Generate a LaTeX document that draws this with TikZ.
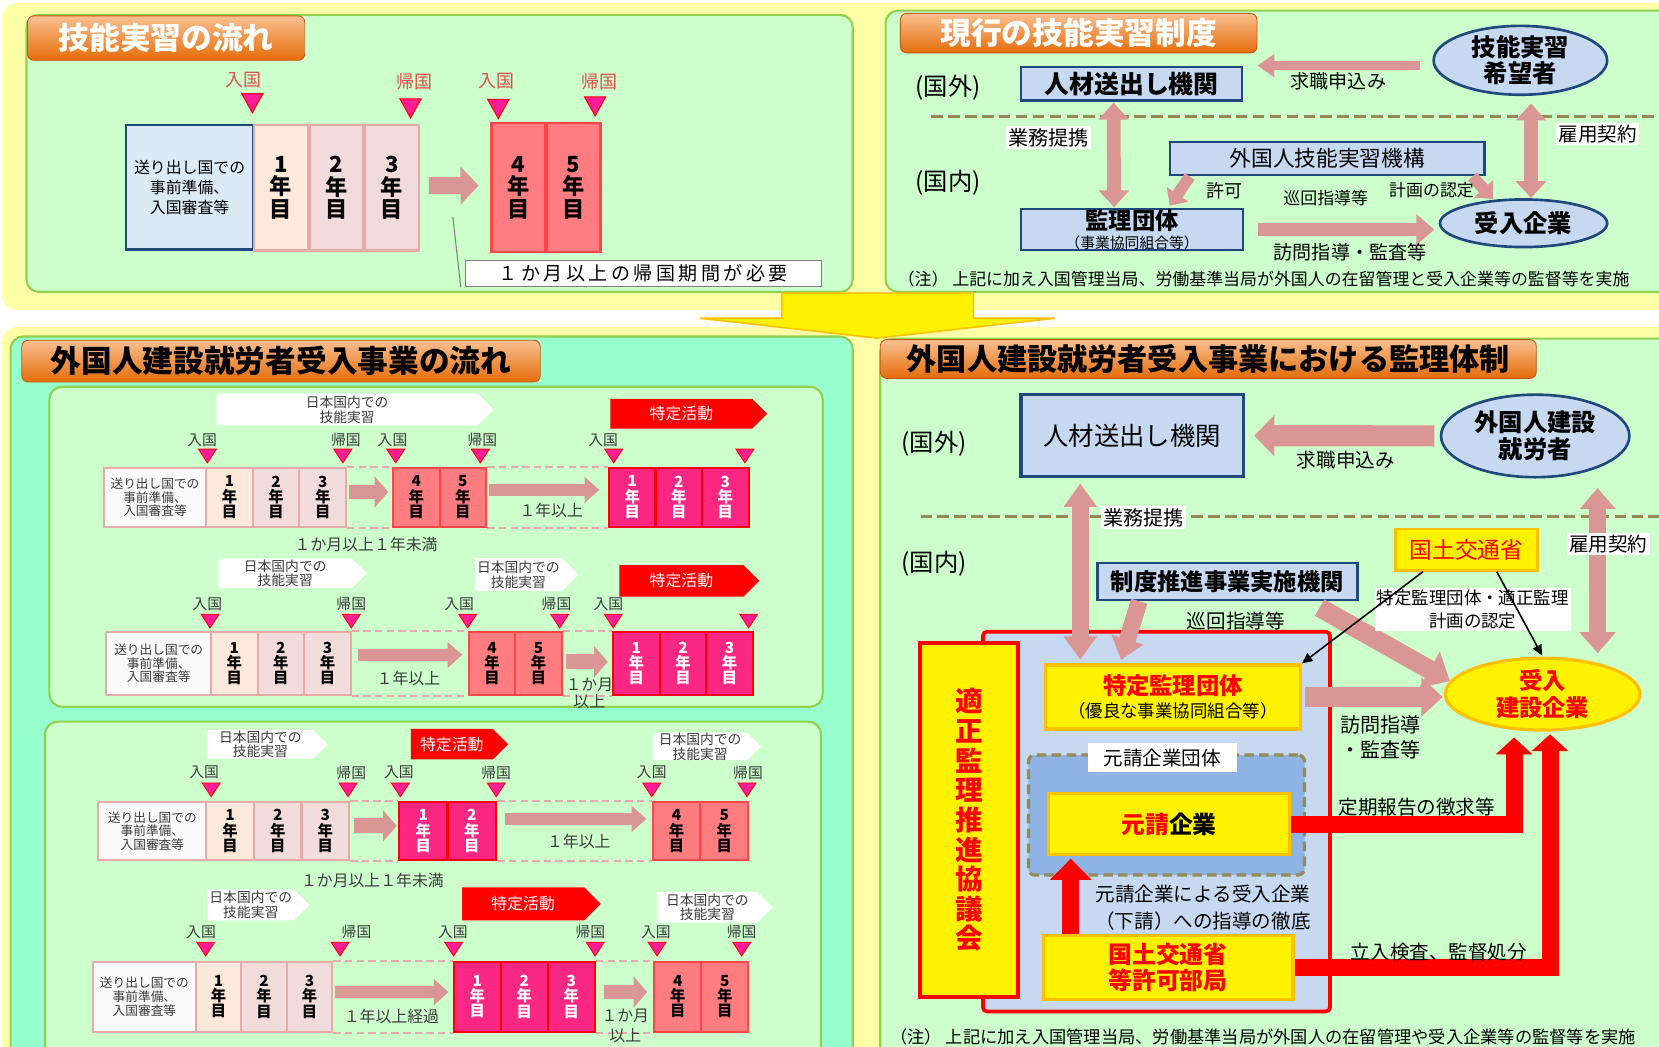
\documentclass[tikz,border=0pt]{standalone}
\usepackage{fontspec}
\setmainfont{Noto Sans CJK JP}
\usetikzlibrary{arrows.meta, shapes.geometric, shapes.symbols, positioning, calc}
\definecolor{BackYellow}{RGB}{255,255,168}
\definecolor{PanelGreen}{RGB}{204,255,204}
\definecolor{PanelMint}{RGB}{150,255,205}
\definecolor{EdgeGreen}{RGB}{146,208,80}
\definecolor{TabTop}{RGB}{250,192,144}
\definecolor{TabBottom}{RGB}{228,108,10}
\definecolor{TabEdge}{RGB}{190,90,20}
\definecolor{PrepBlue}{RGB}{220,234,246}
\definecolor{NavyEdge}{RGB}{31,73,125}
\definecolor{BoxBlue}{RGB}{198,217,241}
\definecolor{YearPeach}{RGB}{253,233,217}
\definecolor{YearRose}{RGB}{242,220,219}
\definecolor{YearEdge}{RGB}{230,170,168}
\definecolor{YearSalmon}{RGB}{255,124,128}
\definecolor{SalmonEdge}{RGB}{255,70,70}
\definecolor{YearMagenta}{RGB}{250,40,130}
\definecolor{MarkPink}{RGB}{255,30,150}
\definecolor{ArrowPink}{RGB}{217,150,148}
\definecolor{DashOlive}{RGB}{148,138,84}
\definecolor{GroupBlue}{RGB}{141,180,226}
\definecolor{EdgeOrange}{RGB}{255,192,0}
\definecolor{LabelRed}{RGB}{224,80,77}
\definecolor{TextGray}{RGB}{60,60,60}
\newcommand{\fsz}[2]{\fontsize{#1}{#2}\selectfont}

\begin{document}
\begin{tikzpicture}[x=1pt, y=-1pt,
	panel/.style={draw=EdgeGreen, line width=2pt, fill=PanelGreen, rounded corners=12pt},
	tab/.style={draw=TabEdge, line width=0.8pt, top color=TabTop, bottom color=TabBottom,
		rounded corners=6pt, inner sep=0pt, font=\fsz{29}{29}\bfseries},
	prep/.style={draw=NavyEdge, line width=2.5pt, fill=PrepBlue, inner sep=0pt, align=center,
		font=\fsz{15}{19}},
	prepS/.style={draw=YearEdge, line width=2pt, fill=white!96!gray, inner sep=0pt, align=center,
		font=\fsz{12}{13}, text=TextGray},
	yr/.style={draw=YearEdge, line width=2pt, inner sep=0pt, align=center, font=\fsz{14.5}{14.5}\bfseries},
	yrC/.style={yr, draw=SalmonEdge, fill=YearSalmon},
	yrD/.style={yr, draw=red, fill=YearMagenta, text=white},
	chevw/.style={signal, signal to=east, fill=white, inner sep=0pt, align=center,
		font=\fsz{13}{14}, text=TextGray},
	chevr/.style={signal, signal to=east, fill=red, inner sep=0pt, font=\fsz{15}{15}, text=white},
	tag/.style={font=\fsz{14}{14}, text=TextGray},
	tagred/.style={font=\fsz{17}{17}, text=LabelRed},
	note/.style={font=\fsz{15}{15}, text=TextGray, align=center},
	bluebox/.style={draw=NavyEdge, line width=2pt, fill=BoxBlue, inner sep=0pt, align=center},
	blueoval/.style={ellipse, draw=NavyEdge, line width=2.5pt, fill=BoxBlue, inner sep=0pt, align=center},
	yelbox/.style={draw=EdgeOrange, line width=3pt, fill=yellow, text=red, inner sep=0pt, align=center},
	yeloval/.style={ellipse, draw=EdgeOrange, line width=3pt, fill=yellow, text=red, inner sep=0pt, align=center},
	whitelbl/.style={fill=white, inner sep=2pt},
	sepdash/.style={draw=DashOlive, line width=3pt, dash pattern=on 11pt off 5pt},
	gapdash/.style={draw=YearEdge, line width=2pt, dash pattern=on 7pt off 4pt},
	fat/.style n args={3}{draw=ArrowPink, line width=#1, -{Triangle[length=#2, width=#3]}},
	fatboth/.style n args={3}{draw=ArrowPink, line width=#1,
		{Triangle[length=#2, width=#3]}-{Triangle[length=#2, width=#3]}},
	redarrow/.style n args={3}{draw=red, line width=#1, -{Triangle[length=#2, width=#3]}},
	flowS/.style={fat={14pt}{13pt}{29pt}},
	flowL/.style={fat={12pt}{14pt}{24pt}},
	pointer/.style={draw=black, line width=1.5pt, -{Triangle[length=10pt, width=9pt]}},
	bigmark/.pic={\filldraw[draw=red, fill=MarkPink, line width=1pt] (-10,-9) -- (10,-9) -- (0,9) -- cycle;},
	smallmark/.pic={\filldraw[draw=red, fill=MarkPink, line width=0.8pt] (-8.5,-6.5) -- (8.5,-6.5) -- (0,6.5) -- cycle;}]
\useasboundingbox (0,0) rectangle (1568,989);
% backgrounds
\fill[white] (0,0) rectangle (1568,989);
\fill[BackYellow, rounded corners=14pt] (2,3) rectangle (1590,293);
\fill[BackYellow, rounded corners=14pt] (2,309) rectangle (1590,1010);
\draw[panel] (25,14) rectangle (806,276);
\draw[panel] (837,10) rectangle (1590,276);
\draw[panel, fill=PanelMint] (10,318) rectangle (806,1010);
\draw[panel] (46.7,365.5) rectangle (777.6,668);
\draw[panel] (42.5,682) rectangle (776,1010);
\draw[panel] (832,320) rectangle (1590,1010);
% big arrow between the halves
\filldraw[fill=yellow, draw=EdgeOrange, line width=1.5pt] (739,277) -- (920,277) -- (920,300.8)
	-- (997,300.8) -- (828.6,319.5) -- (661.6,300.8) -- (739,300.8) -- cycle;

% flow of training (top left)
\node[tab, text=white, minimum width=262pt, minimum height=42pt] (tltab) at (157,36) {技能実習の流れ};
\node[prep, minimum width=120.5pt, minimum height=118pt] (tlprep) at (179.25,177) {送り出し国での\\事前準備、\\入国審査等};
\foreach \i/\x/\c in {1/265.5/YearPeach,2/318/YearRose,3/370.5/YearRose}
	\node[yr, fill=\c, font=\fsz{21}{21.5}\bfseries, line width=2.5pt, minimum width=51pt, minimum height=119pt] (tly\i) at (\x,177.5) {\i\\年\\目};
\foreach \i/\x in {4/490,5/542}
	\node[yrC, font=\fsz{21}{21.5}\bfseries, line width=2.5pt, minimum width=51pt, minimum height=122pt] (tly\i) at (\x,177.3) {\i\\年\\目};
\foreach \x/\y in {238.5/97.5,388/102.5,471/103,562.5/100.5}
	\pic at (\x,\y) {bigmark};
\node[tagred] (tlin1) at (230,76) {入国};
\node[tagred] (tlout1) at (392,77) {帰国};
\node[tagred] (tlin2) at (469,77) {入国};
\node[tagred] (tlout2) at (566.5,77) {帰国};
\draw[fat={16pt}{17pt}{35pt}, shorten <=8pt, shorten >=11pt] ([yshift=2pt]tly3.east) -- ([yshift=2pt]tly4.west);
\coordinate (tlgap) at (428,205);
\node[draw=gray, line width=1pt, fill=white, minimum width=336pt, minimum height=25pt, inner sep=0pt,
	font=\fsz{18}{18}\addfontfeature{LetterSpace=18}] (tlnote) at (608,258.5) {１か月以上の帰国期間が必要};
\draw[gray, line width=1pt] (tlgap) -- ([xshift=-4pt]tlnote.south west);

% current system (top right)
\node[tab, text=white, minimum width=337pt, minimum height=37.4pt] (trtab) at (1019.5,31.3) {現行の技能実習制度};
\node[font=\fsz{23}{23}] (trout) at (896,82.5) {(国外)};
\node[font=\fsz{23}{23}] (trin) at (896,173) {(国内)};
\draw[sepdash] (880,110) -- (1568,110);
\node[bluebox, minimum width=209pt, minimum height=32pt, font=\fsz{23.5}{23.5}\bfseries] (trsend) at (1069.5,79) {人材送出し機関};
\node[blueoval, minimum width=164pt, minimum height=63pt, font=\fsz{23}{24}\bfseries] (trhope) at (1437,57) {技能実習\\希望者};
\node[bluebox, minimum width=297pt, minimum height=30.5pt, font=\fsz{20.5}{20.5}] (trotit) at (1254.5,149.75) {外国人技能実習機構};
\node[bluebox, minimum width=210pt, minimum height=38pt, font=\fsz{14}{18}] (trsup) at (1070,217) {{\fsz{22}{18}\bfseries 監理団体}\\（事業協同組合等）};
\node[blueoval, minimum width=158pt, minimum height=45pt, font=\fsz{23}{23}\bfseries] (trfirm) at (1440,211) {受入企業};
\coordinate (trapp) at ([yshift=-5pt]trhope.west);
\draw[fat={9pt}{16pt}{21pt}, shorten <=12pt, shorten >=13.5pt] (trapp) -- (trapp -| trsend.east);
\node[font=\fsz{18}{18}] (trapplbl) at (1265,77) {求職申込み};
\draw[fatboth={13pt}{16pt}{28pt}, shorten <=1pt, shorten >=1pt] ([xshift=-17pt]trsend.south) -- ([xshift=-17pt]trsup.north);
\node[whitelbl, font=\fsz{19}{19}] (trtie) at (991,130) {業務提携};
\draw[fatboth={13pt}{16pt}{28pt}, shorten <=7pt] ([xshift=10pt]trhope.south) -- ([xshift=7pt]trfirm.north);
\node[whitelbl, font=\fsz{18.5}{18.5}] (trhire) at (1510,126.5) {雇用契約};
\draw[fat={11pt}{13pt}{24pt}, shorten <=1pt, shorten >=3pt] ([xshift=20pt]trotit.south west) -- ([xshift=140pt]trsup.north west);
\draw[fat={11pt}{13pt}{24pt}, shorten <=1pt, shorten >=1pt] ([xshift=-13pt]trotit.south east) -- (trfirm.142);
\draw[fat={13pt}{17pt}{28pt}, shorten <=13pt, shorten >=4pt] (trsup.east) -- (trsup.east -| trfirm.west);
\node[font=\fsz{17}{17}] (trperm) at (1157,180) {許可};
\node[font=\fsz{16}{16}] (trtour) at (1253,187.5) {巡回指導等};
\node[font=\fsz{16}{16}] (trplan) at (1353,180) {計画の認定};
\node[font=\fsz{18}{18}] (trvisit) at (1276,238) {訪問指導・監査等};
\node[font=\fsz{16}{16}, anchor=west] (trnote) at (845,264) {（注） 上記に加え入国管理当局、労働基準当局が外国人の在留管理と受入企業等の監督等を実施};

% flow of the construction worker scheme (bottom left)
\node[tab, minimum width=490pt, minimum height=39.5pt] (bltab) at (265.6,341.3) {外国人建設就労者受入事業の流れ};
% row 1
\node[chevw, minimum width=262pt, minimum height=30pt] (r1w1) at (328,387) {日本国内での\\技能実習};
\node[chevr, minimum width=148pt, minimum height=28pt] (r1r1) at (644,391) {特定活動};
\node[prepS, minimum width=96pt, minimum height=56pt] (r1p) at (146.5,470) {送り出し国での\\事前準備、\\入国審査等};
\foreach \i/\x/\c in {1/217/YearPeach,2/261/YearRose,3/305/YearRose}
	\node[yr, fill=\c, minimum width=44pt, minimum height=56pt] (r1a\i) at (\x,470) {\i\\年\\目};
\foreach \i/\x in {4/393.5,5/437.5}
	\node[yrC, minimum width=44pt, minimum height=56pt] (r1b\i) at (\x,470) {\i\\年\\目};
\foreach \i/\x in {1/597.5,2/641.5,3/685.5}
	\node[yrD, minimum width=44pt, minimum height=56pt] (r1c\i) at (\x,470) {\i\\年\\目};
\foreach \x in {196,324,374,454,580,704}
	\pic at (\x,431) {smallmark};
\foreach \n/\x/\t in {1/191/入国,2/327/帰国,3/371/入国,4/456/帰国,5/570/入国}
	\node[tag] (r1t\n) at (\x,416) {\t};
\draw[gapdash] (r1a3.north east) -- (r1b4.north west);
\draw[gapdash] (r1a3.south east) -- (r1b4.south west);
\draw[gapdash] (r1b5.north east) -- (r1c1.north west);
\draw[gapdash] (r1b5.south east) -- (r1c1.south west);
\draw[flowS, shorten <=2pt, shorten >=3.5pt] ([yshift=5pt]r1a3.east) -- ([yshift=5pt]r1b4.west);
\draw[flowL, shorten <=1.5pt, shorten >=8pt] ([yshift=7pt]r1b5.east) -- ([yshift=7pt]r1c1.west);
\node[note] (r1n1) at (521,482) {１年以上};
\node[note] (r1n2) at (346,515) {１か月以上１年未満};
% row 2
\node[chevw, minimum width=140pt, minimum height=28pt] (r2w1) at (269.6,541.8) {日本国内での\\技能実習};
\node[chevw, minimum width=98pt, minimum height=31pt] (r2w2) at (490,543) {日本国内での\\技能実習};
\node[chevr, minimum width=132pt, minimum height=30pt] (r2r1) at (644,549) {特定活動};
\node[prepS, minimum width=99pt, minimum height=60pt] (r2p) at (150,627) {送り出し国での\\事前準備、\\入国審査等};
\foreach \i/\x/\c in {1/221.5/YearPeach,2/265.5/YearRose,3/309.5/YearRose}
	\node[yr, fill=\c, minimum width=44pt, minimum height=60pt] (r2a\i) at (\x,627) {\i\\年\\目};
\foreach \i/\x in {4/465,5/509}
	\node[yrC, minimum width=44pt, minimum height=60pt] (r2b\i) at (\x,627) {\i\\年\\目};
\foreach \i/\x in {1/601.5,2/645.5,3/689.5}
	\node[yrD, minimum width=44pt, minimum height=60pt] (r2c\i) at (\x,627) {\i\\年\\目};
\foreach \x in {198.5,332,442,529,579.6,707.6}
	\pic at (\x,587) {smallmark};
\foreach \n/\x/\t in {1/196/入国,2/332/帰国,3/434/入国,4/526/帰国,5/575/入国}
	\node[tag] (r2t\n) at (\x,571) {\t};
\draw[gapdash] (r2a3.north east) -- (r2b4.north west);
\draw[gapdash] (r2a3.south east) -- (r2b4.south west);
\draw[gapdash] (r2b5.north east) -- (r2c1.north west);
\draw[gapdash] (r2b5.south east) -- (r2c1.south west);
\draw[flowL, shorten <=5.5pt, shorten >=5pt] ([yshift=8pt]r2a3.east) -- ([yshift=8pt]r2b4.west);
\draw[flowS, shorten <=3pt, shorten >=4pt] ([yshift=1.5pt]r2b5.east) -- ([yshift=1.5pt]r2c1.west);
\node[note] (r2n1) at (386,641) {１年以上};
\node[note, font=\fsz{15}{15.5}] (r2n2) at (557,655.5) {１か月\\以上};
% row 3
\node[chevw, minimum width=114pt, minimum height=27pt] (r3w1) at (246,703.4) {日本国内での\\技能実習};
\node[chevr, minimum width=92pt, minimum height=29pt] (r3r1) at (427,703.3) {特定活動};
\node[chevw, minimum width=102pt, minimum height=25pt] (r3w2) at (661.7,705.5) {日本国内での\\技能実習};
\node[prepS, minimum width=102pt, minimum height=55pt] (r3p) at (144,785.5) {送り出し国での\\事前準備、\\入国審査等};
\foreach \i/\x/\c in {1/217.5/YearPeach,2/262.5/YearRose,3/307.5/YearRose}
	\node[yr, fill=\c, minimum width=45pt, minimum height=55pt] (r3a\i) at (\x,785.5) {\i\\年\\目};
\foreach \i/\x in {1/400,2/446}
	\node[yrD, minimum width=46pt, minimum height=55pt] (r3c\i) at (\x,785.5) {\i\\年\\目};
\foreach \i/\x in {4/639.5,5/684.5}
	\node[yrC, minimum width=45pt, minimum height=55pt] (r3b\i) at (\x,785.5) {\i\\年\\目};
\foreach \x in {199.6,329,378.4,469,616,706}
	\pic at (\x,746.5) {smallmark};
\foreach \n/\x/\t in {1/193/入国,2/332/帰国,3/377/入国,4/469/帰国,5/616/入国,6/707/帰国}
	\node[tag] (r3t\n) at (\x,730) {\t};
\draw[gapdash] (r3a3.north east) -- (r3c1.north west);
\draw[gapdash] (r3a3.south east) -- (r3c1.south west);
\draw[gapdash] (r3c2.north east) -- (r3b4.north west);
\draw[gapdash] (r3c2.south east) -- (r3b4.south west);
\draw[flowS, shorten <=4pt, shorten >=1pt] ([yshift=5pt]r3a3.east) -- ([yshift=5pt]r3c1.west);
\draw[flowL, shorten <=7pt, shorten >=5pt] ([yshift=11.5pt]r3c2.east) -- ([yshift=11.5pt]r3b4.west);
\node[note] (r3n1) at (547,795.5) {１年以上};
\node[note] (r3n2) at (352,832) {１か月以上１年未満};
% row 4
\node[chevw, minimum width=96pt, minimum height=29pt] (r4w1) at (237,855.3) {日本国内での\\技能実習};
\node[chevr, minimum width=131pt, minimum height=31pt] (r4r1) at (494.5,854.3) {特定活動};
\node[chevw, minimum width=109pt, minimum height=29pt] (r4w2) at (668.5,857.5) {日本国内での\\技能実習};
\node[prepS, minimum width=97pt, minimum height=66pt] (r4p) at (136.5,942) {送り出し国での\\事前準備、\\入国審査等};
\foreach \i/\x/\c in {1/206.5/YearPeach,2/249.5/YearRose,3/292.5/YearRose}
	\node[yr, fill=\c, minimum width=43pt, minimum height=66pt] (r4a\i) at (\x,942) {\i\\年\\目};
\foreach \i/\x in {1/451,2/495.5,3/540}
	\node[yrD, minimum width=44.5pt, minimum height=66pt] (r4c\i) at (\x,942) {\i\\年\\目};
\foreach \i/\x in {4/640.5,5/685}
	\node[yrC, minimum width=44.5pt, minimum height=66pt] (r4b\i) at (\x,942) {\i\\年\\目};
\foreach \x in {194.4,321.4,428.7,562.5,621,701}
	\pic at (\x,897) {smallmark};
\foreach \n/\x/\t in {1/190/入国,2/337/帰国,3/428/入国,4/558/帰国,5/620/入国,6/701/帰国}
	\node[tag] (r4t\n) at (\x,881) {\t};
\draw[gapdash] (r4a3.north east) -- (r4c1.north west);
\draw[gapdash] (r4a3.south east) -- (r4c1.south west);
\draw[gapdash] (r4c3.north east) -- (r4b4.north west);
\draw[gapdash] (r4c3.south east) -- (r4b4.south west);
\draw[flowL, shorten <=2pt, shorten >=3.75pt] ([yshift=4.3pt]r4a3.east) -- ([yshift=4.3pt]r4c1.west);
\draw[flowS, shorten <=7.75pt, shorten >=5.5pt] ([yshift=4.4pt]r4c3.east) -- ([yshift=4.4pt]r4b4.west);
\node[note] (r4n1) at (370,961) {１年以上経過};
\node[note, font=\fsz{15}{19}] (r4n2) at (591,970) {１か月\\以上};

% supervision of the scheme (bottom right)
\node[tab, font=\fsz{28.5}{28.5}\bfseries, minimum width=620pt, minimum height=36.6pt] (brtab) at (1142,339.3) {外国人建設就労者受入事業における監理体制};
\node[font=\fsz{23}{23}] (brout) at (883,419) {(国外)};
\node[font=\fsz{23}{23}] (brin) at (883,533) {(国内)};
\draw[sepdash] (870,488.5) -- (1568,488.5);
\node[bluebox, line width=3pt, minimum width=210pt, minimum height=77.5pt, font=\fsz{24}{24}] (brsend) at (1070,411.75) {人材送出し機関};
\node[blueoval, minimum width=178pt, minimum height=78pt, font=\fsz{23}{25}\bfseries] (brworker) at (1451,412) {外国人建設\\就労者};
\draw[fat={20pt}{19pt}{38pt}, shorten <=5pt, shorten >=9pt] (brworker.west) -- (brsend.east);
\node[font=\fsz{18.5}{18.5}] (brapp) at (1272,435) {求職申込み};
\node[yelbox, line width=2.5pt, minimum width=134pt, minimum height=39pt, font=\fsz{21.5}{21.5}] (brmlit) at (1386,519.5) {国土交通省};
\node[bluebox, line width=2.5pt, minimum width=246pt, minimum height=35pt, font=\fsz{22}{22}\bfseries] (brseido) at (1160,549.5) {制度推進事業実施機関};
\node[draw=red, line width=3.5pt, fill=BoxBlue, rounded corners=4pt, minimum width=328pt, minimum height=359pt, inner sep=0pt] (brzone) at (1093,776.5) {};
\node[draw=red, line width=3.5pt, fill=yellow, text=red, inner sep=0pt, align=center, minimum width=92.4pt, minimum height=334pt,
	font=\fsz{26}{28}\bfseries] (brcouncil) at (915.8,775) {適\\正\\監\\理\\推\\進\\協\\議\\会};
\node[yelbox, minimum width=241pt, minimum height=60.5pt, font=\fsz{16.5}{22}] (brtok) at (1108.5,658.75) {{\fsz{22}{22}\bfseries 特定監理団体}\\{\color{black}（優良な事業協同組合等）}};
\node[draw=DashOlive, line width=3pt, dash pattern=on 9pt off 5pt, fill=GroupBlue, rounded corners=6pt,
	minimum width=261pt, minimum height=113.4pt] (brgroup) at (1102.5,770.3) {};
\node[fill=white, inner sep=0pt, minimum width=141pt, minimum height=28pt, font=\fsz{18.5}{18.5}] (brgrouplbl) at (1098.5,716) {元請企業団体};
\node[yelbox, text=black, minimum width=228pt, minimum height=58pt, font=\fsz{22.5}{22.5}\bfseries] (brmain) at (1105,779) {{\color{red}元請}企業};
\node[yelbox, minimum width=236pt, minimum height=61pt, font=\fsz{22.5}{25}\bfseries] (brpermit) at (1104,914.5) {国土交通省\\等許可部局};
\node[yeloval, minimum width=184pt, minimum height=68pt, font=\fsz{22}{26}\bfseries] (brfirm) at (1458,656) {受入\\建設企業};
% pink connectors
\draw[fatboth={16pt}{22pt}{30pt}, shorten <=5pt, shorten >=3.5pt] ([xshift=-49pt]brsend.south) -- ([xshift=-87.5pt]brtok.north);
\node[whitelbl, font=\fsz{19}{19}] (brtie) at (1081,489) {業務提携};
\draw[fatboth={16pt}{20pt}{33pt}, shorten <=9pt, shorten >=3pt] ([xshift=59pt]brworker.south) -- ([xshift=52pt]brfirm.north);
\node[whitelbl, font=\fsz{18.5}{18.5}] (brhire) at (1520,514) {雇用契約};
\draw[fat={16pt}{20pt}{30pt}, shorten >=3.5pt] ([xshift=41pt]brseido.south west) -- ([xshift=72pt]brtok.north west);
\draw[fat={18pt}{22pt}{38pt}] ([xshift=-37pt, yshift=-6pt]brseido.south east) -- (brfirm.172);
\node[font=\fsz{18.5}{18.5}] (brtour) at (1168,587) {巡回指導等};
\draw[fat={18pt}{20pt}{36pt}, shorten <=3pt, shorten >=1pt] (brtok.east) -- (brtok.east -| brfirm.west);
\node[font=\fsz{19}{24}, align=left] (brvisit) at (1305,697) {訪問指導\\・監査等};
% approval pointers
\node[whitelbl, font=\fsz{16.5}{21}, align=center] (brplan) at (1392,576) {特定監理団体・適正監理\\計画の認定};
\draw[pointer] ($(brmlit.south west)!0.2!(brmlit.south east)$) -- (brtok.north east);
\draw[pointer, shorten >=1pt] ($(brmlit.south west)!0.71!(brmlit.south east)$) -- (brfirm.north);
% red connectors
\draw[redarrow={16pt}{20pt}{38pt}, shorten >=2pt] ([xshift=-92pt]brpermit.north) -- ([xshift=-93pt]brmain.south);
\node[font=\fsz{18.5}{25}, align=center] (brguide) at (1137,858) {元請企業による受入企業\\（下請）への指導の徹底};
\coordinate (brtipA) at (1431,697);
\coordinate (brtipB) at (1465,694);
\draw[redarrow={16pt}{16pt}{34pt}] (brmain.east) -| (brtipA);
\draw[redarrow={16pt}{16pt}{34pt}] (brpermit.east) -| (brtipB);
\node[font=\fsz{18.5}{18.5}] (brreport) at (1339,763) {定期報告の徴求等};
\node[font=\fsz{18.5}{18.5}] (brinspect) at (1360,900) {立入検査、監督処分};
\node[font=\fsz{16.3}{16.3}, anchor=west] (brnote) at (838,980) {（注） 上記に加え入国管理当局、労働基準当局が外国人の在留管理や受入企業等の監督等を実施};
\end{tikzpicture}
\end{document}
